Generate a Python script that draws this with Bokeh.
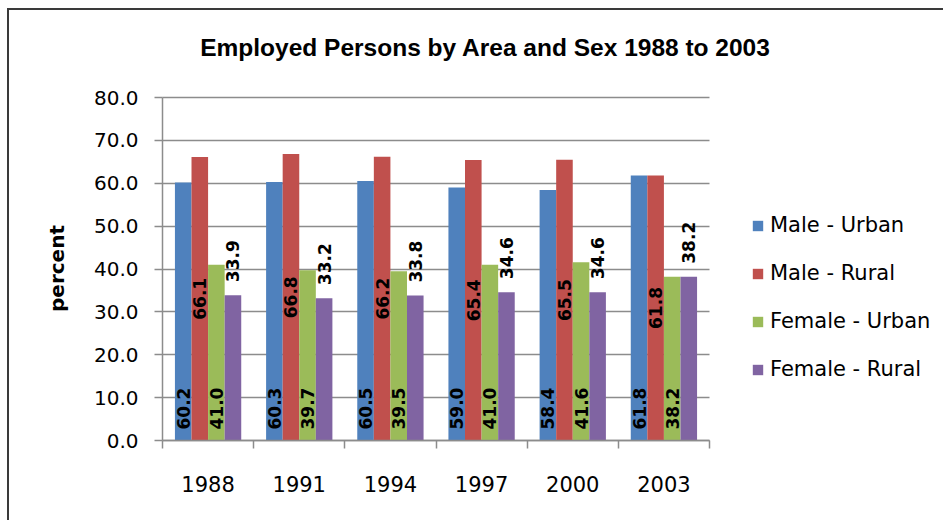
from bokeh.plotting import figure
from bokeh.models import (ColumnDataSource, FixedTicker, NumeralTickFormatter, LabelSet,
                          Legend, LegendItem, Range1d, Label)
from bokeh.core.properties import value
from bokeh.embed import file_html
from bokeh.resources import INLINE

# ---- data ----
years = ["1988", "1991", "1994", "1997", "2000", "2003"]
male_urban = [60.2, 60.3, 60.5, 59.0, 58.4, 61.8]
male_rural = [66.1, 66.8, 66.2, 65.4, 65.5, 61.8]
female_urban = [41.0, 39.7, 39.5, 41.0, 41.6, 38.2]
female_rural = [33.9, 33.2, 33.8, 34.6, 34.6, 38.2]
series_names = ["Male - Urban", "Male - Rural", "Female - Urban", "Female - Rural"]
series_values = [male_urban, male_rural, female_urban, female_rural]
y_ticks = [0, 10, 20, 30, 40, 50, 60, 70, 80]
title_text = "Employed Persons by Area and Sex 1988 to 2003"
y_label = "percent"

# ---- style ----
colors = ["#4F81BD", "#C0504D", "#9BBB59", "#8064A2"]
label_modes = ["base", "center", "base", "outside"]
GRID = "#8c8c8c"
FONT = "DejaVu Sans"

# canvas starts at page (9, 10) because of margin + border below
W, H = 936, 512
FL, FR, FT, FB = 153, 700, 87, 430   # plot-area edges (canvas px)
n_cat = len(years)
# the frame covers the whole canvas (room for axis titles, chart title and
# legend); categories fill FL..FR and the value axis fills FB..FT
ppu = (FR - FL) / n_cat
ppy = (FB - FT) / (y_ticks[-1] - y_ticks[0])
x_start = -FL / ppu
x_end = (W - FL) / ppu
y_start = y_ticks[0] - (H - FB) / ppy
y_end = y_ticks[-1] + FT / ppy

p = figure(width=W, height=H, output_backend="svg", toolbar_location=None,
           x_range=Range1d(x_start, x_end), y_range=Range1d(y_start, y_end),
           min_border_left=0, min_border_right=0, min_border_top=0,
           min_border_bottom=0)
p.margin = (8, 0, 0, 7)
p.styles = {"border-left": "2px solid #3a3a3a", "border-top": "2px solid #3a3a3a",
            "border-right": "0px none", "border-bottom": "0px none"}
p.outline_line_color = None
p.background_fill_color = "white"
p.border_fill_color = "white"

n = len(series_names)
bar_w = 1.0 / (n + 1.5)
renderers = []
for k, (name, vals) in enumerate(zip(series_names, series_values)):
    xs = [i + 0.5 + (k - (n - 1) / 2) * bar_w for i in range(n_cat)]
    mode = label_modes[k]
    if mode == "center":
        ly = [v / 2 for v in vals]
    elif mode == "base":
        ly = [0 for v in vals]
    else:
        ly = list(vals)
    src = ColumnDataSource(dict(x=xs, top=vals, ly=ly, txt=[f"{v:.1f}" for v in vals]))
    r = p.vbar(x="x", top="top", width=bar_w, bottom=0, source=src,
               fill_color=colors[k], line_color=None)
    renderers.append(r)
    ls = LabelSet(x="x", y="ly", text="txt", source=src, angle=90, angle_units="deg",
                  text_align="center" if mode == "center" else "left",
                  text_baseline="middle",
                  y_offset=0 if mode == "center" else (11 if mode == "base" else 13),
                  text_font=value(FONT), text_font_size="17px", text_font_style="bold",
                  text_color="black")
    p.add_layout(ls)

# y axis, fixed at the left edge of the categories
p.yaxis.fixed_location = 0
p.yaxis.ticker = FixedTicker(ticks=y_ticks)
p.yaxis.formatter = NumeralTickFormatter(format="0.0")
p.yaxis.bounds = (y_ticks[0], y_ticks[-1])
p.yaxis.major_tick_out = 8
p.yaxis.major_tick_in = 0
p.yaxis.minor_tick_out = 0
p.yaxis.minor_tick_in = 0
p.yaxis.major_label_standoff = 16

# x axis, fixed at zero: labels at category centres, ticks at boundaries
p.xaxis.fixed_location = 0
p.xaxis.ticker = FixedTicker(ticks=[i + 0.5 for i in range(n_cat)],
                             minor_ticks=list(range(n_cat + 1)))
p.xaxis.major_label_overrides = {i + 0.5: y for i, y in enumerate(years)}
p.xaxis.bounds = (0, n_cat)
p.xaxis.major_tick_out = 0
p.xaxis.major_tick_in = 0
p.xaxis.minor_tick_out = 8
p.xaxis.minor_tick_in = 0
p.xaxis.major_label_standoff = 27

for ax in (p.xaxis, p.yaxis):
    ax.axis_line_color = GRID
    ax.axis_line_width = 1.5
    ax.major_tick_line_color = GRID
    ax.major_tick_line_width = 1.5
    ax.minor_tick_line_color = GRID
    ax.minor_tick_line_width = 1.5
    ax.major_label_text_font = FONT
    ax.major_label_text_color = "black"
p.yaxis.major_label_text_font_size = "20px"
p.xaxis.major_label_text_font_size = "21px"

p.xgrid.grid_line_color = None
p.ygrid.ticker = FixedTicker(ticks=y_ticks)
p.ygrid.grid_line_color = GRID
p.ygrid.grid_line_width = 1.5
p.ygrid.cross_bounds = (0, n_cat)

# value-axis title
p.add_layout(Label(text=y_label, x=47, y=H - 258, x_units="screen", y_units="screen",
                   angle=90, angle_units="deg", text_align="center", text_baseline="middle",
                   text_font=FONT, text_font_size="20px", text_font_style="bold",
                   text_color="black"))

# chart title
p.add_layout(Label(text=title_text, x=476, y=H - 37, x_units="screen", y_units="screen",
                   text_align="center", text_baseline="middle",
                   text_font="Liberation Sans", text_font_size="24.5px",
                   text_font_style="bold", text_color="black"))

# legend
legend = Legend(items=[LegendItem(label=nm, renderers=[r]) for nm, r in zip(series_names, renderers)],
                location=(FL + 589, (H - FB) + 58), orientation="vertical",
                glyph_width=13, glyph_height=13, label_height=26, spacing=22,
                label_standoff=6, padding=0, margin=0,
                label_text_font=FONT, label_text_font_size="21px", label_text_color="black",
                border_line_color=None, background_fill_alpha=0)
p.add_layout(legend)

open("out.html", "w").write(file_html(p, INLINE))
